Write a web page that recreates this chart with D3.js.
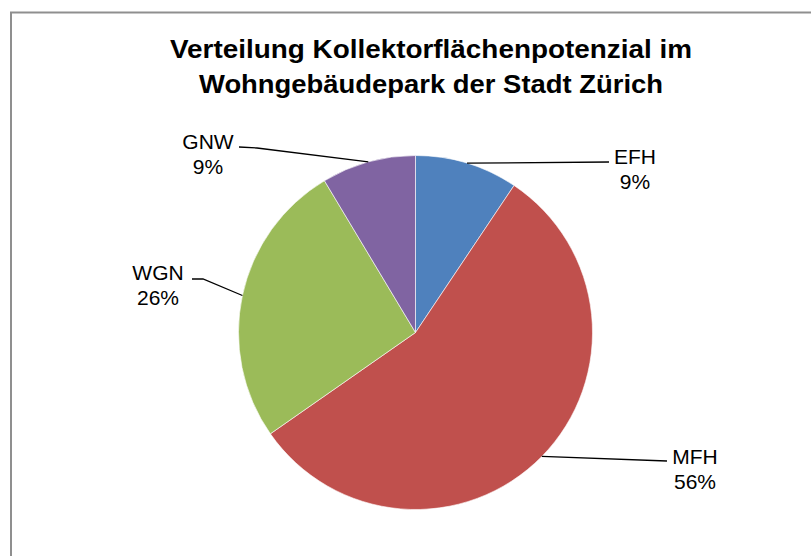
<!DOCTYPE html>
<html>
<head>
<meta charset="utf-8">
<script src="https://cdn.jsdelivr.net/npm/d3@7"></script>
<style>
  body { margin: 0; background: #fff; }
  text { font-family: "Liberation Sans", Arial, sans-serif; fill: #000; }
</style>
</head>
<body>
<script>
// data
var categories = ["EFH", "MFH", "WGN", "GNW"];
var shares = [9.4, 55.9, 26.1, 8.6];
var colors = ["#4f81bd", "#c0504d", "#9bbb59", "#8064a2"];
var titleLines = ["Verteilung Kollektorflächenpotenzial im", "Wohngebäudepark der Stadt Zürich"];

// label layout: anchor centre x, first baseline y, leader end, leader elbow
var labelLayout = [
  {x: 635, y: 164, end: [609, 162], elbow: null},
  {x: 695, y: 464, end: [667, 461], elbow: null},
  {x: 158, y: 280, end: [192, 279], elbow: [203, 279]},
  {x: 208, y: 149, end: [239, 147], elbow: [257, 148]}
];
var titleWidths = [522, 464];

var width = 811, height = 556;
var cx = 415.5, cy = 332.5, radius = 177;

var svg = d3.select("body")
  .append("svg")
    .attr("width", width)
    .attr("height", height);

// outer chart frame
svg.append("rect")
    .attr("x", 11)
    .attr("y", 12.5)
    .attr("width", 900)
    .attr("height", 700)
    .attr("fill", "none")
    .attr("stroke", "#8f8f8f")
    .attr("stroke-width", 2);

// title
svg.append("g")
  .selectAll("text")
  .data(titleLines)
  .enter()
  .append("text")
    .attr("text-anchor", "middle")
    .style("font-weight", "bold")
    .style("font-size", "25px")
    .attr("x", 431)
    .attr("y", function(d, i) { return 58 + i * 35; })
    .attr("textLength", function(d, i) { return titleWidths[i]; })
    .attr("lengthAdjust", "spacingAndGlyphs")
    .text(function(d) { return d; });

var pie = d3.pie().sort(null).value(function(d) { return d; });
var arcs = pie(shares);

var arc = d3.arc().innerRadius(0).outerRadius(radius);

var g = svg.append("g")
    .attr("transform", "translate(" + cx + "," + cy + ")");

g.selectAll("path")
  .data(arcs)
  .enter()
  .append("path")
    .attr("d", arc)
    .attr("fill", function(d, i) { return colors[i]; })
    .attr("stroke", "#fff")
    .attr("stroke-width", 0.6);

// leader lines, from the middle of each slice's rim
svg.append("g")
  .selectAll("polyline")
  .data(arcs)
  .enter()
  .append("polyline")
    .attr("fill", "none")
    .attr("stroke", "#000")
    .attr("stroke-width", 1.3)
    .attr("points", function(d, i) {
      var a = (d.startAngle + d.endAngle) / 2;
      var p0 = [cx + radius * Math.sin(a), cy - radius * Math.cos(a)];
      var L = labelLayout[i];
      var pts = [p0];
      if (L.elbow) pts.push(L.elbow);
      pts.push(L.end);
      return pts.map(function(p) { return p.join(","); }).join(" ");
    });

// labels
var labels = svg.append("g")
  .selectAll("text")
  .data(arcs)
  .enter()
  .append("text")
    .attr("text-anchor", "middle")
    .style("font-size", "21px");

labels.append("tspan")
    .attr("x", function(d, i) { return labelLayout[i].x; })
    .attr("y", function(d, i) { return labelLayout[i].y; })
    .text(function(d, i) { return categories[i]; });

labels.append("tspan")
    .attr("x", function(d, i) { return labelLayout[i].x; })
    .attr("y", function(d, i) { return labelLayout[i].y + 25; })
    .text(function(d) { return Math.round(d.value) + "%"; });
</script>
</body>
</html>
